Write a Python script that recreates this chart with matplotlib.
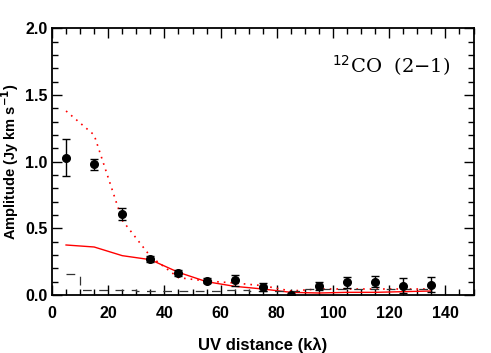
import numpy as np
import matplotlib
matplotlib.use("Agg")
import matplotlib.pyplot as plt
from matplotlib.ticker import MultipleLocator

# binned visibility amplitudes
uv = [5, 15, 25, 35, 45, 55, 65, 75, 85, 95, 105, 115, 125, 135]
amp = [1.03, 0.98, 0.61, 0.27, 0.165, 0.107, 0.11, 0.062, 0.0, 0.07, 0.095, 0.10, 0.07, 0.077]
err = [0.14, 0.04, 0.045, 0.025, 0.02, 0.02, 0.04, 0.03, 0.01, 0.03, 0.04, 0.04, 0.055, 0.055]

# models
mod_solid = [0.375, 0.36, 0.295, 0.265, 0.17, 0.10, 0.065, 0.045, 0.02, 0.015, 0.02, 0.02, 0.025, 0.03]
mod_dot = [1.38, 1.20, 0.56, 0.29, 0.13, 0.105, 0.09, 0.07, 0.03, 0.045, 0.045, 0.045, 0.045, 0.045]
# zero-signal expectation (step)
zero_exp = [0.155, 0.035, 0.04, 0.03, 0.028, 0.03, 0.035, 0.028, 0.03, 0.045, 0.045, 0.045, 0.045, 0.045]

plt.rcParams['font.family'] = ['Liberation Sans', 'DejaVu Sans']
fig = plt.figure(figsize=(4.91, 3.53), dpi=100)
ax = fig.add_axes([52/491, 1-295/353, (473.5-52)/491, (295-28.3)/353])

ax.plot(uv, mod_dot, color='red', ls=(0, (1, 3)), lw=1.2)
ax.plot(uv, mod_solid, color='red', ls='-', lw=1.0)
ax.plot(uv, zero_exp, color='#333333', ls=(0, (7, 6)), lw=0.9, drawstyle='steps-mid')
ax.errorbar(uv, amp, yerr=err, fmt='o', color='k', ms=5.5, capsize=3, elinewidth=1, capthick=1)

ax.set_xlim(0, 150)
ax.set_ylim(0, 2.0)
ax.xaxis.set_major_locator(MultipleLocator(20))
ax.xaxis.set_minor_locator(MultipleLocator(5))
ax.yaxis.set_major_locator(MultipleLocator(0.5))
ax.yaxis.set_minor_locator(MultipleLocator(0.1))
ax.yaxis.set_major_formatter(matplotlib.ticker.FormatStrFormatter('%.1f'))
ax.tick_params(which='both', direction='in', top=True, right=True, width=1)
ax.tick_params(which='major', length=7, labelsize=11.5)
ax.tick_params(axis='x', which='major', pad=8)
ax.tick_params(axis='y', which='major', pad=3)
ax.tick_params(which='minor', length=4)
for lab in ax.get_xticklabels() + ax.get_yticklabels():
    lab.set_fontweight('bold')
for s in ax.spines.values():
    s.set_linewidth(1.3)

ax.set_xlabel(u"UV distance (k\u03bb)", fontsize=12, fontweight='bold')
ax.xaxis.set_label_coords(0.5, -0.16)
ax.set_ylabel(r"Amplitude (Jy km s$^{\mathbf{-1}}$)", fontsize=10.5, fontweight='bold')
ax.yaxis.set_label_coords(-0.073, 0.5)
ax.text(0.945, 0.86, r"$^{12}$CO  (2$-$1)", transform=ax.transAxes, ha='right', va='center',
        fontsize=14, family=['DejaVu Serif'])

fig.savefig("out.png", dpi=100)
